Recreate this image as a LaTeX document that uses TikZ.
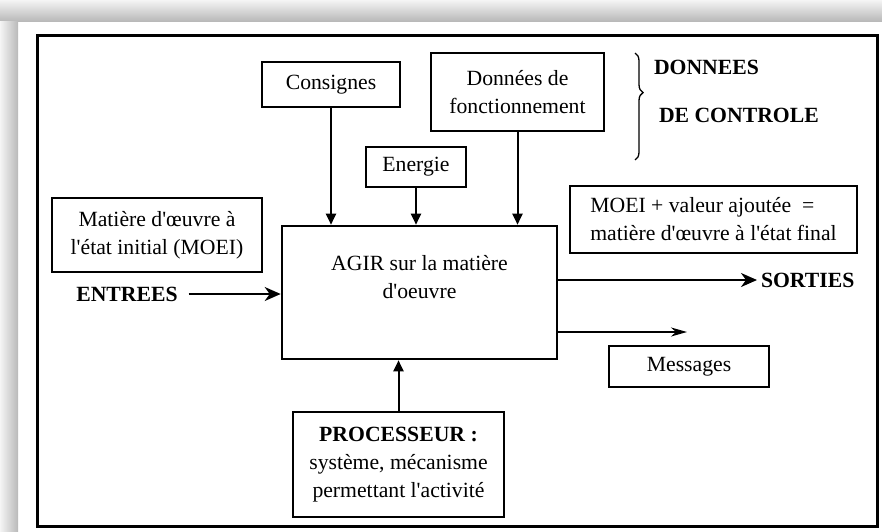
\documentclass[tikz,border=0pt]{standalone}
\usepackage{fontspec}
\setmainfont{Liberation Serif}
\usetikzlibrary{%
  arrows.meta,%
  decorations.pathreplacing,% brace
  shadings%
}
\newcommand{\ap}{\textquotesingle}

\begin{document}
\begin{tikzpicture}
[x=1pt, y=-1pt, font=\fontsize{21.7}{28}\selectfont, line width=2pt,
box/.style={rectangle, draw, line width=2pt, inner sep=0pt, align=center},
tag/.style={inner sep=3pt, font=\fontsize{21.7}{28}\selectfont\bfseries},
down/.style={-{Triangle[length=11pt,width=10pt]}},
flow/.style={-{Stealth[length=16pt,width=14pt,inset=5pt]}}]

\useasboundingbox (0,0) rectangle (882,531);
\fill[white] (0,0) rectangle (882,531);
\shade[top color=gray!8, bottom color=gray!55] (0,0) rectangle (882,21);
\shade[left color=gray!8, right color=gray!55] (0,21) rectangle (18,531);
\draw[line width=3pt] (37,35) rectangle (877,526);

% donnees de controle
\node[box, minimum width=138pt, minimum height=45pt] (consignes) at (331,84.5) {Consignes};
\node[box, minimum width=173pt, minimum height=78pt] (fonct) at (517.5,92) {Données de\\fonctionnement};
\node[box, minimum width=100pt, minimum height=40pt] (energie) at (416,167) {Energie};

\draw[decorate, decoration={brace, amplitude=8pt, aspect=0.37}, line width=1.3pt] (635,53) -- (635,160);
\node[tag, anchor=west] (donnees) at (650,67) {DONNEES};
\node[tag, anchor=west] (controle) at (655,115) {DE CONTROLE};

% bloc central
\node[box, line width=2.6pt, minimum width=275pt, minimum height=133pt] (agir) at (419.5,292.5) {};
\node[align=center] (agirtxt) at (419.5,277) {AGIR sur la matière\\d\ap oeuvre};

\draw[down] (consignes) -- (consignes |- agir.north);
\draw[down] (energie) -- (energie |- agir.north);
\draw[down] (fonct) -- (fonct |- agir.north);

% entrees
\node[box, minimum width=210pt, minimum height=74pt] (moei) at (157,235) {Matière d\ap œuvre à\\l\ap état initial (MOEI)};
\node[tag] (entrees) at (127,294) {ENTREES};
\draw[flow] (entrees.east) ++(7pt,0) -- (entrees -| agir.west);

% sorties
\node[box, align=left, minimum width=287pt, minimum height=67pt] (final) at (713.5,219.5) {MOEI + valeur ajoutée~ =\\matière d\ap œuvre à l\ap état final};
\node[tag, anchor=west] (sorties) at (757,280) {SORTIES};
\draw[flow] (agir.east |- sorties) -- (sorties.west);

\coordinate (msgend) at (687,332);
\draw[-{Stealth[length=16pt,width=9pt,inset=5pt]}] (agir.east |- msgend) -- (msgend);
\node[box, minimum width=160pt, minimum height=41pt] (messages) at (689,366.5) {Messages};

% processeur
\node[box, minimum width=211pt, minimum height=105pt] (proc) at (398.5,464.5) {\textbf{PROCESSEUR :}\\système, mécanisme\\permettant l\ap activité};
\draw[down] (proc.north) -- (proc.north |- agir.south);
\end{tikzpicture}
\end{document}
